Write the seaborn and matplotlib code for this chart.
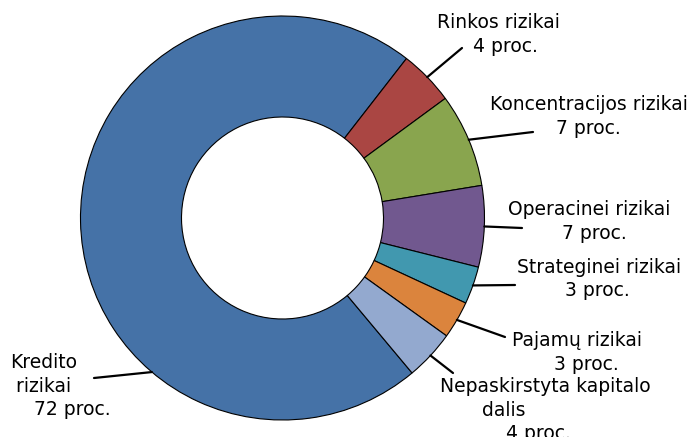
import numpy as np
import matplotlib
matplotlib.use("Agg")
import matplotlib.pyplot as plt
import seaborn as sns

sns.set_style("white")
plt.rcParams['font.family'] = ['DejaVu Sans']

# risk categories (first slice drawn first, clockwise)
categories = ['Kredito rizikai', 'Rinkos rizikai', 'Koncentracijos rizikai',
              'Operacinei rizikai', 'Strateginei rizikai', 'Pajamų rizikai',
              'Nepaskirstyta kapitalo dalis']
shares = [71.6, 4.4, 7.5, 6.5, 3.0, 3.0, 4.0]
pct_labels = [72, 4, 7, 7, 3, 3, 4]                   # numbers printed on the chart
colors = ['#4572A7', '#AA4643', '#89A54E', '#71588F', '#4198AF', '#DB843D', '#93A9CF']

# label text as on the chart (Excel-like wrapping)
label_text = [
    "Kredito\n rizikai\n    {} proc.",
    "Rinkos rizikai\n      {} proc.",
    "Koncentracijos rizikai\n           {} proc.",
    "Operacinei rizikai\n         {} proc.",
    "Strateginei rizikai\n        {} proc.",
    "Pajamų rizikai\n       {} proc.",
    "Nepaskirstyta kapitalo\n       dalis\n           {} proc.",
]

W, H = 692, 437
cx, cy, R = 282.5, 218, 202   # pie centre / radius in pixels


def px(x, y):
    return (x - cx) / R, (cy - y) / R


# layout in pixels: text top-left corner, leader line outer end
text_pos = [(10, 353), (437, 13), (490, 95), (508, 200), (517, 258), (512, 331), (440, 377)]
line_end = [(94, 378), (462, 48), (533, 132), (522, 228), (515, 285), (505, 337), (453, 373)]

fig = plt.figure(figsize=(W / 100, H / 100), dpi=100)
ax = fig.add_axes([0, 0, 1, 1])
wedges, _ = ax.pie(shares, colors=colors, startangle=309.9, counterclock=False,
                   radius=1, wedgeprops=dict(width=0.5, edgecolor='black', linewidth=0.8))
ax.set_xlim(-cx / R, (W - cx) / R)
ax.set_ylim(-(H - cy) / R, cy / R)
ax.set_aspect('equal')
ax.axis('off')

for i, w in enumerate(wedges):
    ang = np.deg2rad((w.theta1 + w.theta2) / 2)
    if i == 0:
        ang = np.deg2rad(229.7)   # Excel puts the big slice's leader lower-left
    start = (np.cos(ang), np.sin(ang))
    ax.annotate('', xy=start, xytext=px(*line_end[i]),
                arrowprops=dict(arrowstyle='-', color='black', lw=1.6,
                                shrinkA=0, shrinkB=0))
    tx, ty = px(*text_pos[i])
    ax.text(tx, ty, label_text[i].format(pct_labels[i]), ha='left', va='top',
            fontsize=13.5, linespacing=1.3, color='black')

fig.savefig('out.png', dpi=100)
